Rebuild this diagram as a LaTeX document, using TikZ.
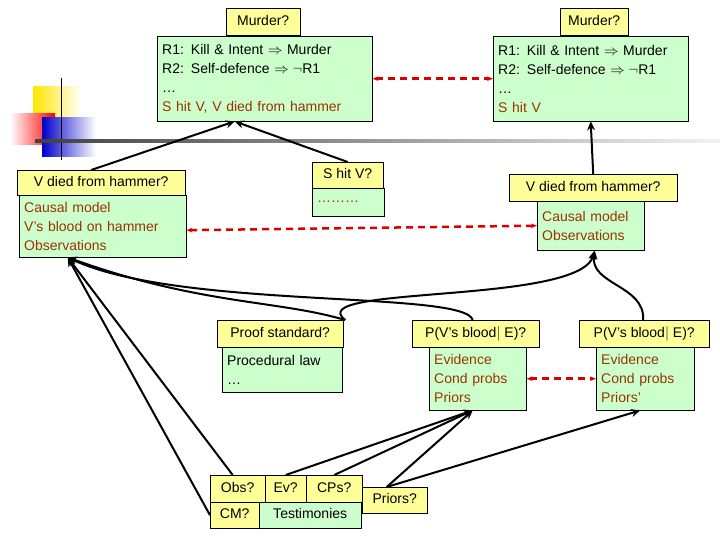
\documentclass[tikz,border=0pt]{standalone}
\usepackage{fontspec}
\setmainfont{Liberation Sans}
\usepackage{tikz}
\usetikzlibrary{arrows.meta}
\definecolor{qyellow}{RGB}{255,255,153}
\definecolor{qgreen}{RGB}{204,255,204}
\definecolor{qred}{RGB}{153,51,0}
\tikzset{
  box/.style={draw, anchor=north west, inner sep=0pt, align=left, font=\fontsize{14}{19}\selectfont},
  q/.style={box, fill=qyellow, text height=10pt, text depth=3pt},
  g/.style={box, fill=qgreen, inner xsep=5pt, text width=#1},
  link/.style={line width=2pt, -{Stealth[length=9pt,width=8pt]}},
  clash/.style={line width=2.5pt, dash pattern=on 7pt off 5pt, red!85!black, {Stealth[length=6pt]}-{Stealth[length=6pt]}}
}
\begin{document}
\begin{tikzpicture}[x=1pt,y=-1pt]
    \useasboundingbox (0,0) rectangle (720,540);
    % logo
    \shade[left color=yellow!80!orange, right color=white] (33,87) rectangle (82,118);
    \shade[left color=white, right color=red] (10,114) rectangle (55,145);
    \shade[left color=blue!80!black, right color=white] (42,118) rectangle (96,157);
    \draw[thick] (61,78) -- (61,160);
    \shade[left color=black!75, right color=black!5] (35,140) rectangle (720,142.5);
    % argument boxes
    \node[q, minimum width=74, minimum height=27] (murderL) at (226,8) {Murder?};
    \node[g=205, minimum height=85] (rulesL) at (157,36) {R1: Kill \& Intent $\Rightarrow$ Murder\\R2: Self-defence $\Rightarrow\neg$R1\\\dots\\\color{qred}S hit V, V died from hammer};
    \node[q, minimum width=68, minimum height=27] (murderR) at (560,8) {Murder?};
    \node[g=185, minimum height=85] (rulesR) at (493,36) {R1: Kill \& Intent $\Rightarrow$ Murder\\R2: Self-defence $\Rightarrow\neg$R1\\\dots\\\color{qred}S hit V};
    \node[q, minimum width=168, minimum height=25] (diedL) at (17,170) {V died from hammer?};
    \node[g=157, minimum height=62] (causalL) at (19,195) {\color{qred}Causal model\\V's blood on hammer\\Observations};
    \node[q, minimum width=71, minimum height=26] (hit) at (312,162) {S hit V?};
    \node[g=62, minimum height=28] (dots) at (312,188) {\color{qred}\dots\dots\dots};
    \node[q, minimum width=168, minimum height=27] (diedR) at (509,174) {V died from hammer?};
    \node[g=97, minimum height=49] (causalR) at (537,201) {\color{qred}Causal model\\Observations};
    % probability boxes
    \node[q, minimum width=126, minimum height=27] (proof) at (217,320) {Proof standard?};
    \node[g=110, minimum height=45] (law) at (222,347) {Procedural law\\\dots};
    \node[q, minimum width=127, minimum height=27] (probL) at (412,320) {P(V's blood$|$ E)?};
    \node[g=87, minimum height=63] (evL) at (429,347) {\color{qred}Evidence\\Cond probs\\Priors};
    \node[q, minimum width=130, minimum height=27] (probR) at (579,320) {P(V's blood$|$ E)?};
    \node[g=88, minimum height=63] (evR) at (596,347) {\color{qred}Evidence\\Cond probs\\Priors'};
    % data boxes
    \node[q, minimum width=55, minimum height=27] (obs) at (210,475) {Obs?};
    \node[q, minimum width=41, minimum height=27] (ev) at (265,475) {Ev?};
    \node[q, minimum width=56, minimum height=27] (cps) at (306,475) {CPs?};
    \node[q, minimum width=65, minimum height=26] (priors) at (362,487) {Priors?};
    \node[q, minimum width=49, minimum height=26] (cm) at (210,502) {CM?};
    \node[box, fill=qgreen, minimum width=102, minimum height=26, text height=10pt, text depth=3pt] (test) at (259,502) {Testimonies};
    % support
    \draw[link] (diedL.north) ++(-10,0) -- ([xshift=-30]rulesL.south);
    \draw[link] (hit.north) -- ([xshift=-30]rulesL.south);
    \draw[link] (diedR.north) -- (rulesR.south);
    \draw[link] ([xshift=-5]obs.north) -- ([xshift=-35]causalL.south);
    \draw[link] (cm.west) -- ([xshift=-35]causalL.south);
    \draw[link] (ev.north) -- ([xshift=-5]evL.south);
    \draw[link] (cps.north) -- ([xshift=-5]evL.south);
    \draw[link] ([xshift=-8]priors.north) -- ([xshift=-5]evL.south);
    \draw[link] ([xshift=-8]priors.north) -- ([xshift=-5]evR.south);
    \draw[link] ([xshift=65]proof.north) .. controls (278,300) and (200,305) .. ([xshift=-35]causalL.south);
    \draw[link] ([xshift=-3]probL.north) .. controls (465,290) and (180,310) .. ([xshift=-35]causalL.south);
    \draw[link] ([xshift=65]proof.north) .. controls (300,285) and (580,305) .. ([xshift=4]causalR.south);
    \draw[link] ([xshift=-1]probR.north) .. controls (645,285) and (590,285) .. ([xshift=4]causalR.south);
    % attacks
    \draw[clash] (rulesL.east) -- (rulesR.west);
    \draw[clash] ([yshift=-4]causalL.east) -- (causalR.west);
    \draw[clash] (evL.east) -- (evR.west);
\end{tikzpicture}
\end{document}
